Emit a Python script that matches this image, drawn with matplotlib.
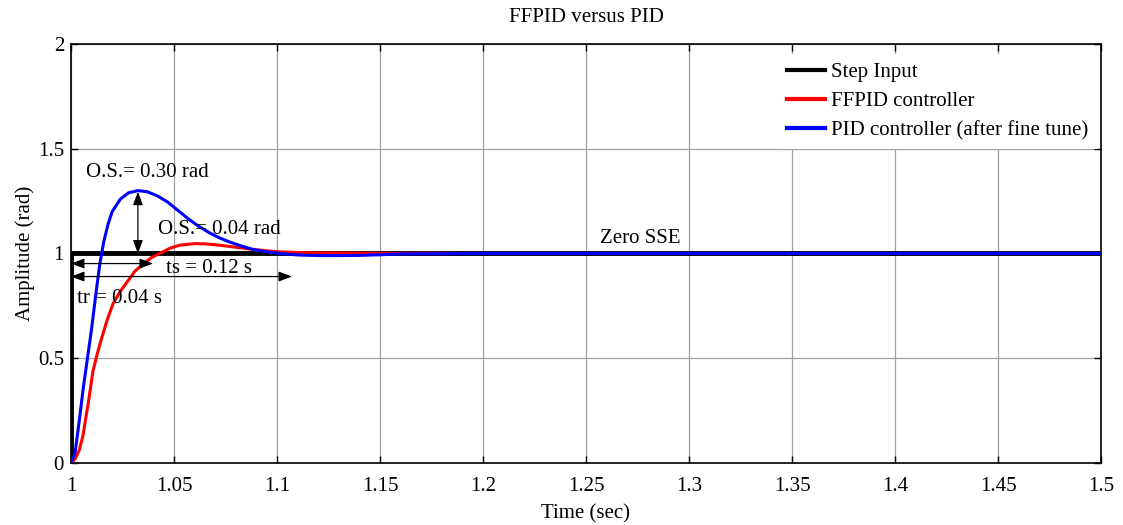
import matplotlib
matplotlib.use("Agg")
import matplotlib.pyplot as plt

plt.rcParams['font.family'] = ['Liberation Serif', 'DejaVu Serif']
plt.rcParams['mathtext.fontset'] = 'stix'

# ---- data ----
step_t = [1.0, 1.0, 1.5]
step_y = [0.0, 1.0, 1.0]

ffpid_t = [1.000, 1.002, 1.0040, 1.0058, 1.0083, 1.0107, 1.0130, 1.0150, 1.0175,
           1.0204, 1.0240, 1.0277, 1.0310, 1.0350, 1.0390, 1.0430, 1.0480, 1.0530,
           1.0600, 1.0650, 1.0700, 1.0750, 1.0800, 1.0880, 1.0950, 1.1010, 1.1100,
           1.1200, 1.1300, 1.1500, 1.2000, 1.5000]
ffpid_y = [0.000, 0.020, 0.060, 0.130, 0.280, 0.440, 0.530, 0.600, 0.680,
           0.760, 0.820, 0.870, 0.915, 0.950, 0.980, 1.000, 1.025, 1.040,
           1.047, 1.046, 1.042, 1.036, 1.030, 1.020, 1.013, 1.008, 1.005,
           1.003, 1.002, 1.001, 1.000, 1.000]

pid_t = [1.000, 1.002, 1.004, 1.006, 1.008, 1.010, 1.012, 1.014, 1.016,
         1.018, 1.020, 1.024, 1.028, 1.0325, 1.037, 1.042, 1.0470,
         1.0520, 1.0570, 1.0620, 1.0670, 1.0720, 1.0770, 1.0820, 1.0880, 1.0950,
         1.1010, 1.1100, 1.1200, 1.1300, 1.1400, 1.1500, 1.1600, 1.2000, 1.5000]
pid_y = [0.000, 0.050, 0.200, 0.360, 0.500, 0.640, 0.800, 0.950, 1.060,
         1.140, 1.200, 1.260, 1.290, 1.300, 1.295, 1.275, 1.245,
         1.205, 1.165, 1.130, 1.100, 1.075, 1.055, 1.038, 1.020, 1.008,
         1.000, 0.993, 0.990, 0.990, 0.991, 0.994, 0.998, 1.000, 1.000]

x_ticks = [1, 1.05, 1.1, 1.15, 1.2, 1.25, 1.3, 1.35, 1.4, 1.45, 1.5]
x_tick_labels = ['1', '1.05', '1.1', '1.15', '1.2', '1.25', '1.3', '1.35', '1.4', '1.45', '1.5']
y_ticks = [0, 0.5, 1, 1.5, 2]
y_tick_labels = ['0', '0.5', '1', '1.5', '2']

legend_labels = ['Step Input', 'FFPID controller', 'PID controller (after fine tune)']

# annotation values (data coords)
os_pid_arrow = (1.0325, 1.0, 1.295)      # x, y_from, y_to
tr_arrow = (1.0, 1.0398, 0.952)          # x_from, x_to, y
ts_arrow = (1.0, 1.1073, 0.89)           # x_from, x_to, y

FS = 15

fig = plt.figure(figsize=(11.23, 5.25), dpi=100)
ax = fig.add_axes([0.0632, 0.1181, 0.9172, 0.7981])

ax.plot(step_t, step_y, color='black', lw=3.5, label=legend_labels[0], zorder=3)
ax.plot(ffpid_t, ffpid_y, color='#ff0000', lw=2.2, label=legend_labels[1], zorder=4)
ax.plot(pid_t, pid_y, color='#0000ff', lw=2.2, label=legend_labels[2], zorder=5)

ax.set_xlim(1, 1.5)
ax.set_ylim(0, 2)
ax.set_xticks(x_ticks)
ax.set_xticklabels(x_tick_labels)
ax.set_yticks(y_ticks)
ax.set_yticklabels(y_tick_labels)
ax.grid(True, color='#a0a0a0', lw=0.9, linestyle='-')
ax.set_axisbelow(True)
ax.tick_params(direction='in', top=True, right=True, length=5, width=1,
               labelsize=FS)
ax.tick_params(axis='x', pad=10)
ax.tick_params(axis='y', pad=5)
for s in ax.spines.values():
    s.set_linewidth(1.2)

ax.set_title('FFPID versus PID', fontsize=FS, pad=16)
ax.set_xlabel('Time (sec)', fontsize=FS, labelpad=6)
ax.set_ylabel('Amplitude (rad)', fontsize=FS, labelpad=2)

aprops = dict(arrowstyle='<|-|>,head_length=0.8,head_width=0.3', color='black',
              lw=0.9, shrinkA=0, shrinkB=0)
ax.annotate('', xy=(os_pid_arrow[0], os_pid_arrow[2]),
            xytext=(os_pid_arrow[0], os_pid_arrow[1]), arrowprops=aprops, zorder=6)
ax.annotate('', xy=(tr_arrow[1], tr_arrow[2]),
            xytext=(tr_arrow[0], tr_arrow[2]), arrowprops=aprops, zorder=6)
ax.annotate('', xy=(ts_arrow[1], ts_arrow[2]),
            xytext=(ts_arrow[0], ts_arrow[2]), arrowprops=aprops, zorder=6)

ax.text(1.0073, 1.386, 'O.S.= 0.30 rad', fontsize=FS, va='center', ha='left', zorder=7)
ax.text(1.0422, 1.114, 'O.S.= 0.04 rad', fontsize=FS, va='center', ha='left', zorder=7)
ax.text(1.0461, 0.929, 'ts = 0.12 s', fontsize=FS, va='center', ha='left', zorder=7)
ax.text(1.0029, 0.786, 'tr = 0.04 s', fontsize=FS, va='center', ha='left', zorder=7)
ax.text(1.2568, 1.071, 'Zero SSE', fontsize=FS, va='center', ha='left', zorder=7)

leg = ax.legend(loc='upper right', bbox_to_anchor=(1.0, 0.985), fontsize=FS,
                frameon=True, fancybox=False, framealpha=1, facecolor='white',
                edgecolor='none', handlelength=1.8, handletextpad=0.3,
                labelspacing=0.45, borderpad=0.4, borderaxespad=0.2)
for line in leg.get_lines():
    line.set_linewidth(3)
leg.set_zorder(10)

fig.savefig('out.png', dpi=100)
